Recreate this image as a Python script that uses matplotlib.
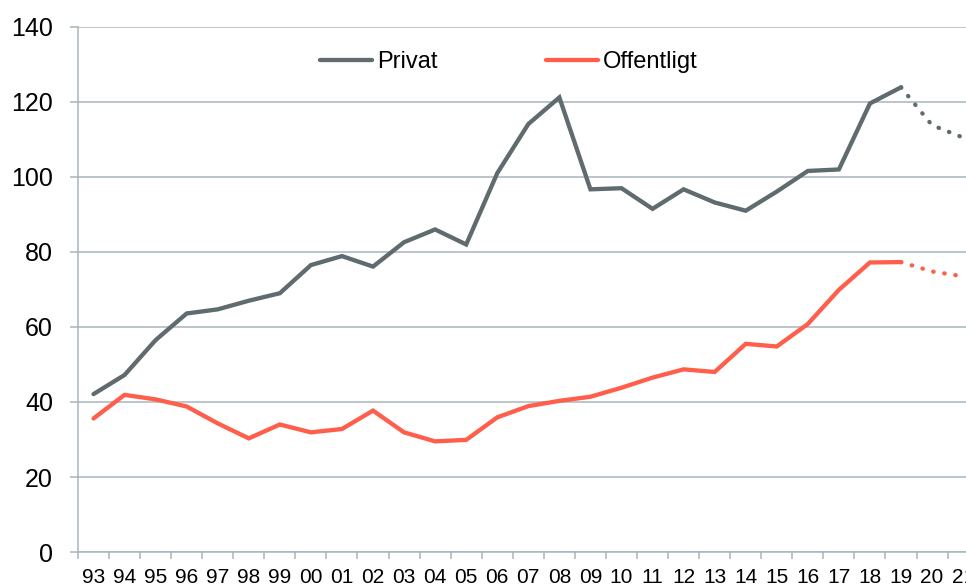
import matplotlib
matplotlib.use("Agg")
import matplotlib.pyplot as plt

plt.rcParams["font.family"] = ["Liberation Sans", "DejaVu Sans"]

years = ["93", "94", "95", "96", "97", "98", "99", "00", "01", "02", "03",
         "04", "05", "06", "07", "08", "09", "10", "11", "12", "13", "14",
         "15", "16", "17", "18", "19", "20", "21"]

# 1993-2019 outcome
privat = [42.1, 47.2, 56.5, 63.6, 64.7, 67.0, 69.0, 76.5, 78.9, 76.1, 82.6,
          86.0, 82.0, 101.0, 114.1, 121.2, 96.7, 97.0, 91.5, 96.7, 93.2,
          91.0, 96.1, 101.6, 102.0, 119.6, 123.9]
offentligt = [35.6, 41.9, 40.7, 38.8, 34.3, 30.3, 34.0, 31.9, 32.8, 37.7,
              31.9, 29.5, 29.9, 35.9, 38.9, 40.3, 41.4, 43.8, 46.5, 48.7,
              48.0, 55.5, 54.8, 60.8, 69.9, 77.2, 77.3]

# 2019-2021 forecast (dotted)
privat_prog = [123.9, 113.8, 110.5]
offentligt_prog = [77.3, 74.8, 73.5]

grey = "#5f6b6e"
red = "#ff5f4a"
gridc = "#a9b5bb"

fig = plt.figure(figsize=(9.66, 5.88), dpi=100)
ax = fig.add_axes([0.0807, 0.0612, 0.9324, 0.893])

x = list(range(len(privat)))
xp = list(range(len(privat) - 1, len(years)))

ax.plot(x, privat, color=grey, lw=3.1, solid_capstyle="round",
        solid_joinstyle="miter", label="Privat", zorder=3)
ax.plot(x, offentligt, color=red, lw=3.1, solid_capstyle="round",
        solid_joinstyle="miter", label="Offentligt", zorder=3)
ax.plot(xp, privat_prog, color=grey, lw=3.1, linestyle=(0, (0.1, 2.5)),
        dash_capstyle="round", zorder=3)
ax.plot(xp, offentligt_prog, color=red, lw=3.1, linestyle=(0, (0.1, 2.5)),
        dash_capstyle="round", zorder=3)

ax.set_ylim(0, 140)
ax.set_yticks(range(0, 141, 20))
ax.set_xlim(-0.5, len(years) - 0.5)
ax.set_xticks([i - 0.5 for i in range(len(years) + 1)])
ax.set_xticklabels([])
ax.set_xticks(range(len(years)), minor=True)
ax.set_xticklabels(years, minor=True)

ax.grid(axis="y", color=gridc, lw=1.1)
ax.set_axisbelow(True)
for s in ["top", "right"]:
    ax.spines[s].set_visible(False)
for s in ["left", "bottom"]:
    ax.spines[s].set_color(gridc)
    ax.spines[s].set_linewidth(1.1)

ax.tick_params(axis="y", length=6, width=1.1, color=gridc, pad=12,
               labelsize=18)
ax.tick_params(axis="x", which="major", length=5, width=1.1, color=gridc)
ax.tick_params(axis="x", which="minor", length=0, pad=11.5, labelsize=15)

ax.legend(loc="center", bbox_to_anchor=(0.4785, 0.933), ncol=2,
          frameon=False, fontsize=17, handlelength=2.2, handletextpad=0.2,
          columnspacing=4.6)

fig.savefig("out.png", dpi=100)
